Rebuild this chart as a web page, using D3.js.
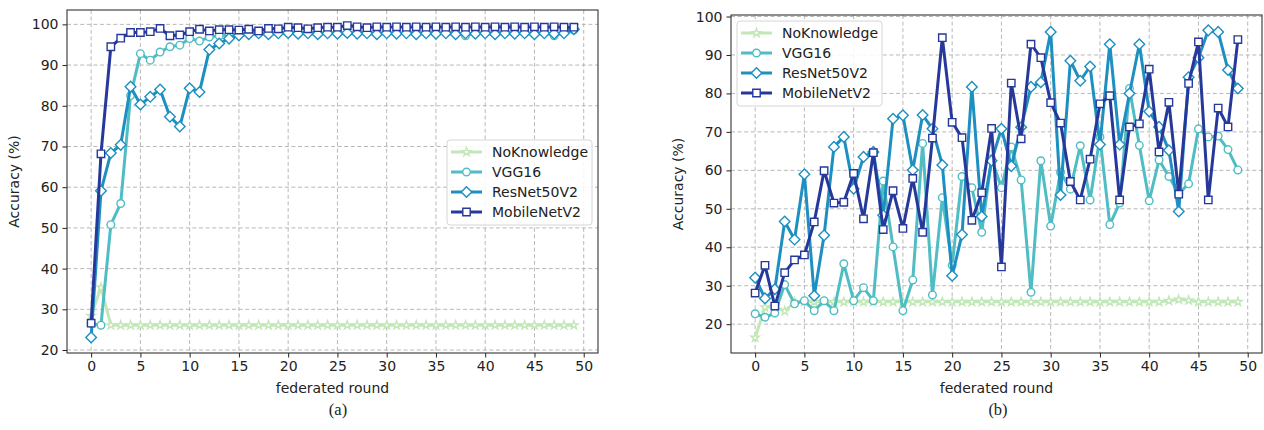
<!DOCTYPE html>
<html>
<head>
<meta charset="utf-8">
<script src="https://cdn.jsdelivr.net/npm/d3@7"></script>
<style>
  html, body { margin: 0; padding: 0; background: #fff; }
  svg text { font-family: "DejaVu Sans", sans-serif; fill: #222; }
</style>
</head>
<body>
<svg id="chart" width="1264" height="430"></svg>
<script>
// federated rounds 0..49
const rounds = d3.range(0, 50)
const seriesNames = ['NoKnowledge', 'VGG16', 'ResNet50V2', 'MobileNetV2']
const seriesColors = ['#c2e7b8', '#4fbdc3', '#1d8fc0', '#26399b']
const seriesMarkers = ['star', 'circle', 'diamond', 'square']
const xTicks = [0, 5, 10, 15, 20, 25, 30, 35, 40, 45, 50]
const yTicks = [20, 30, 40, 50, 60, 70, 80, 90, 100]

// (a) accuracy per round
const leftNoKnowledge = [28.4, 35.4, 26.1, 26.1, 26.1, 26.1, 26.1, 26.1, 26.1, 26.1,
  26.1, 26.1, 26.1, 26.1, 26.1, 26.1, 26.1, 26.1, 26.1, 26.1,
  26.1, 26.1, 26.1, 26.1, 26.1, 26.1, 26.1, 26.1, 26.1, 26.1,
  26.1, 26.1, 26.1, 26.1, 26.1, 26.1, 26.1, 26.1, 26.1, 26.1,
  26.1, 26.1, 26.1, 26.1, 26.1, 26.1, 26.1, 26.1, 26.1, 26.1]
const leftVGG16 = [26.5, 26.1, 50.8, 56.0, 82.5, 92.8, 91.2, 93.2, 94.5, 94.9,
  96.5, 95.9, 96.9, 97.2, 97.5, 97.6, 97.9, 98.0, 97.9, 98.0,
  98.0, 97.9, 98.0, 97.9, 98.0, 98.0, 97.9, 98.0, 98.0, 97.9,
  98.0, 97.9, 98.0, 98.0, 97.9, 98.0, 97.9, 98.0, 97.2, 98.0,
  97.9, 98.0, 98.0, 97.9, 98.0, 97.9, 98.0, 97.2, 98.0, 98.6]
const leftResNet50V2 = [23.1, 59.1, 68.4, 70.4, 84.7, 80.3, 82.2, 84.0, 77.3, 74.9,
  84.3, 83.4, 93.8, 95.3, 96.5, 97.3, 97.6, 97.8, 97.6, 97.8,
  97.9, 97.7, 97.8, 97.6, 97.8, 97.7, 97.9, 97.7, 97.8, 97.6,
  97.8, 97.7, 97.8, 97.6, 97.8, 97.7, 97.8, 97.6, 97.8, 97.7,
  97.8, 97.6, 97.8, 97.7, 97.8, 97.6, 97.8, 97.7, 97.8, 98.8]
const leftMobileNetV2 = [26.6, 68.2, 94.5, 96.6, 98.0, 98.0, 98.2, 99.0, 97.2, 97.4,
  98.2, 98.8, 98.4, 98.7, 98.7, 98.6, 98.8, 98.4, 99.0, 98.9,
  99.3, 99.2, 98.9, 99.2, 99.3, 99.3, 99.7, 99.4, 99.2, 99.4,
  99.3, 99.4, 99.3, 99.4, 99.3, 99.4, 99.3, 99.4, 99.3, 99.4,
  99.3, 99.4, 99.3, 99.4, 99.3, 99.4, 99.3, 99.4, 99.3, 99.3]

// (b) accuracy per round
const rightNoKnowledge = [16.5, 24.4, 24.6, 23.4, 25.7, 25.8, 25.8, 25.8, 25.8, 25.8,
  25.8, 25.8, 25.8, 25.8, 25.8, 25.8, 25.8, 25.8, 25.8, 25.8,
  25.8, 25.8, 25.8, 25.8, 25.8, 25.8, 25.8, 25.8, 25.8, 25.8,
  25.8, 25.8, 25.8, 25.8, 25.8, 25.8, 25.8, 25.8, 25.8, 25.8,
  25.8, 25.8, 26.1, 26.4, 26.2, 25.8, 25.8, 25.8, 25.8, 25.8]
const rightVGG16 = [22.7, 21.8, 22.9, 30.3, 25.3, 26.1, 23.5, 26.1, 23.5, 35.7,
  26.1, 29.5, 26.1, 57.2, 40.1, 23.5, 31.5, 67.0, 27.6, 52.9,
  35.3, 58.4, 55.5, 43.9, 63.0, 55.5, 66.1, 57.5, 28.3, 62.5,
  45.5, 59.5, 55.1, 66.4, 52.3, 68.7, 45.9, 51.5, 81.3, 66.5,
  52.1, 62.7, 58.4, 54.0, 56.5, 70.8, 68.7, 68.9, 65.4, 60.1]
const rightResNet50V2 = [32.1, 26.7, 29.1, 46.7, 42.0, 59.0, 27.4, 43.1, 66.1, 68.7,
  55.2, 63.5, 64.8, 48.3, 73.4, 74.3, 60.1, 74.4, 70.8, 61.4,
  32.6, 43.3, 81.7, 48.0, 62.5, 70.8, 61.1, 71.2, 81.7, 82.9,
  96.0, 53.6, 88.5, 83.3, 87.0, 66.7, 92.8, 66.7, 80.0, 92.8,
  75.3, 71.3, 65.2, 49.3, 84.2, 89.3, 96.4, 96.0, 86.1, 81.3]
const rightMobileNetV2 = [28.1, 35.3, 24.7, 33.4, 36.7, 38.0, 46.6, 59.9, 51.5, 51.7,
  59.2, 47.4, 64.6, 44.6, 54.7, 44.9, 57.9, 43.9, 68.4, 94.5,
  72.5, 68.5, 47.0, 54.2, 70.9, 34.9, 82.7, 68.2, 92.8, 89.3,
  77.6, 72.3, 57.1, 52.3, 62.9, 77.3, 79.4, 52.3, 71.3, 72.1,
  86.3, 64.8, 77.7, 53.8, 82.6, 93.4, 52.3, 76.2, 71.3, 94.0]

const svg = d3.select('#chart')

// marker path for a symbol name
function markerPath (kind) {
  if (kind === 'star') return d3.symbol(d3.symbolStar).size(22)()
  if (kind === 'circle') return d3.symbol(d3.symbolCircle).size(Math.PI * 3.8 * 3.8)()
  if (kind === 'diamond') return 'M0,-5.3L5.3,0L0,5.3L-5.3,0Z'
  return 'M-3.7,-3.7H3.7V3.7H-3.7Z'
}

function drawPanel (panel) {
  const x = d3.scaleLinear().domain([-2.45, 51.45]).range([panel.left, panel.right])
  const all = panel.series.flat()
  const lo = d3.min(all)
  const hi = d3.max(all)
  const pad = (hi - lo) * 0.05
  const y = d3.scaleLinear().domain([lo - pad, hi + pad]).range([panel.bottom, panel.top])

  const g = svg.append('g')

  // grid
  const grid = g.append('g')
    .attr('stroke', '#b0b0b0')
    .attr('stroke-width', 0.9)
    .attr('stroke-dasharray', '4,2.6')
  grid.selectAll('line.gx').data(xTicks).join('line')
    .attr('x1', d => x(d)).attr('x2', d => x(d))
    .attr('y1', panel.top).attr('y2', panel.bottom)
  grid.selectAll('line.gy').data(yTicks).join('line')
    .attr('x1', panel.left).attr('x2', panel.right)
    .attr('y1', d => y(d)).attr('y2', d => y(d))

  // series, drawn in order so later ones sit on top
  const line = d3.line().x((d, i) => x(rounds[i])).y(d => y(d))
  panel.series.forEach((vals, k) => {
    const s = g.append('g')
    s.append('path')
      .attr('d', line(vals))
      .attr('fill', 'none')
      .attr('stroke', seriesColors[k])
      .attr('stroke-width', 3)
      .attr('stroke-linejoin', 'round')
    s.selectAll('path.m').data(vals).join('path')
      .attr('class', 'm')
      .attr('d', markerPath(seriesMarkers[k]))
      .attr('transform', (d, i) => `translate(${x(rounds[i])},${y(d)})`)
      .attr('fill', '#fff')
      .attr('stroke', seriesColors[k])
      .attr('stroke-width', 1.4)
  })

  // axes
  const xAxis = g.append('g')
    .attr('transform', `translate(0,${panel.bottom})`)
    .call(d3.axisBottom(x).tickValues(xTicks).tickSize(4.5).tickPadding(4))
  const yAxis = g.append('g')
    .attr('transform', `translate(${panel.left},0)`)
    .call(d3.axisLeft(y).tickValues(yTicks).tickSize(4.5).tickPadding(4))
  ;[xAxis, yAxis].forEach(a => {
    a.select('.domain').remove()
    a.selectAll('line').attr('stroke', '#222').attr('stroke-width', 1)
    a.selectAll('text')
      .attr('font-family', '"DejaVu Sans", sans-serif')
      .attr('font-size', 14)
      .attr('fill', '#222')
  })

  // frame
  g.append('rect')
    .attr('x', panel.left).attr('y', panel.top)
    .attr('width', panel.right - panel.left)
    .attr('height', panel.bottom - panel.top)
    .attr('fill', 'none')
    .attr('stroke', '#333')
    .attr('stroke-width', 1.1)

  g.append('text')
    .attr('x', (panel.left + panel.right) / 2)
    .attr('y', 393)
    .attr('text-anchor', 'middle')
    .attr('font-size', 14)
    .text('federated round')
  g.append('text')
    .attr('transform', `translate(${panel.left - 48},${(panel.top + panel.bottom) / 2}) rotate(-90)`)
    .attr('text-anchor', 'middle')
    .attr('font-size', 14)
    .text('Accuracy (%)')

  g.append('text')
    .attr('x', panel.captionX)
    .attr('y', 415)
    .attr('text-anchor', 'middle')
    .style('font-family', '"Liberation Serif", "Times New Roman", serif')
    .attr('font-size', 16.5)
    .text(panel.caption)

  // legend
  const lg = g.append('g').attr('transform', `translate(${panel.legendX},${panel.legendY})`)
  lg.append('rect')
    .attr('width', 145).attr('height', 85)
    .attr('rx', 3)
    .attr('fill', '#fff').attr('fill-opacity', 0.85)
    .attr('stroke', '#d6d6d6')
  seriesNames.forEach((name, k) => {
    const ly = 12 + k * 20
    lg.append('line')
      .attr('x1', 4).attr('x2', 35)
      .attr('y1', ly).attr('y2', ly)
      .attr('stroke', seriesColors[k]).attr('stroke-width', 3)
    lg.append('path')
      .attr('d', markerPath(seriesMarkers[k]))
      .attr('transform', `translate(19.5,${ly})`)
      .attr('fill', '#fff')
      .attr('stroke', seriesColors[k]).attr('stroke-width', 1.4)
    lg.append('text')
      .attr('x', 45).attr('y', ly)
      .attr('dy', '0.35em')
      .attr('font-size', 14)
      .text(name)
  })
}

drawPanel({
  left: 67, right: 598, top: 10, bottom: 353,
  series: [leftNoKnowledge, leftVGG16, leftResNet50V2, leftMobileNetV2],
  legendX: 447, legendY: 140,
  caption: '(a)', captionX: 338
})
drawPanel({
  left: 731, right: 1262, top: 15, bottom: 353,
  series: [rightNoKnowledge, rightVGG16, rightResNet50V2, rightMobileNetV2],
  legendX: 737, legendY: 21,
  caption: '(b)', captionX: 998
})
</script>
</body>
</html>
